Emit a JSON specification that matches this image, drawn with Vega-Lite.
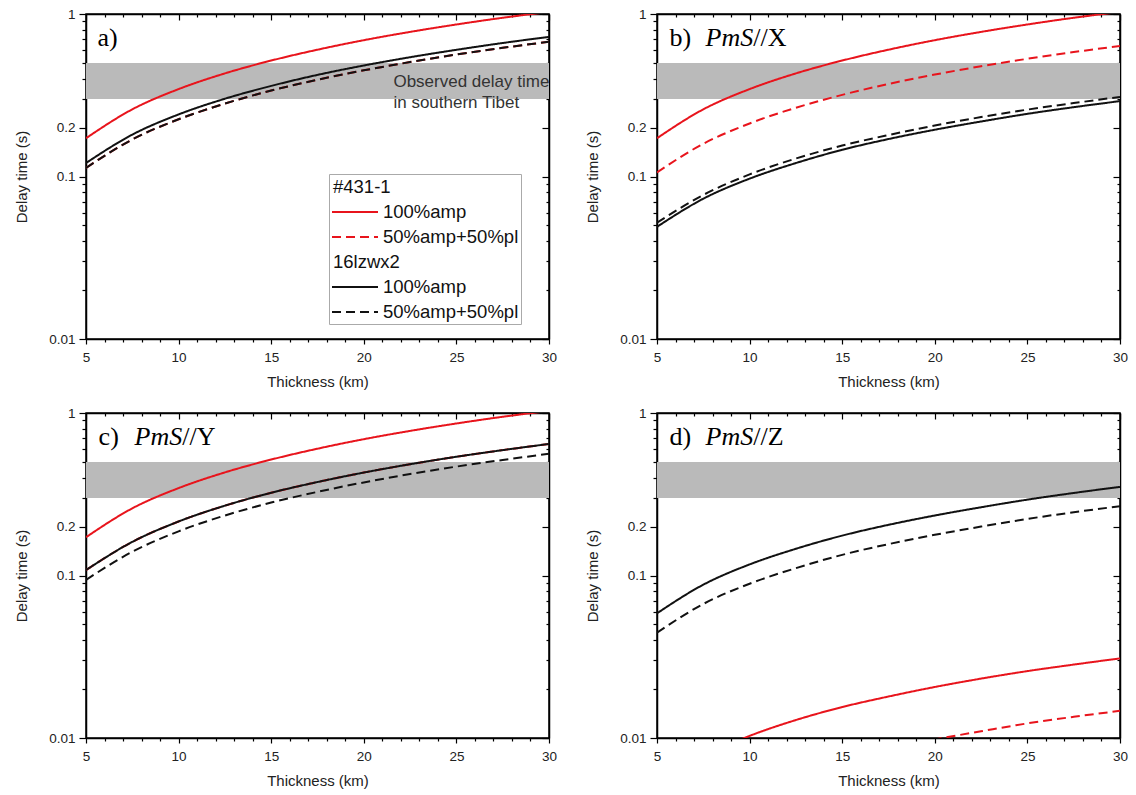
{
  "$schema": "https://vega.github.io/schema/vega-lite/v6.json",
  "background": "white",
  "padding": {"left": 13, "top": 6, "right": 0, "bottom": 0},
  "datasets": {
    "band": [{"lo": 0.3, "hi": 0.5}],
    "curves": [
      {"panel": "a", "t": 5, "r100": 0.172, "r50": 0.113, "k100": 0.121, "k50": 0.113},
      {"panel": "a", "t": 7.5, "r100": 0.259, "r50": 0.169, "k100": 0.181, "k50": 0.169},
      {"panel": "a", "t": 10, "r100": 0.345, "r50": 0.225, "k100": 0.241, "k50": 0.225},
      {"panel": "a", "t": 12.5, "r100": 0.431, "r50": 0.281, "k100": 0.301, "k50": 0.281},
      {"panel": "a", "t": 15, "r100": 0.517, "r50": 0.338, "k100": 0.361, "k50": 0.338},
      {"panel": "a", "t": 17.5, "r100": 0.603, "r50": 0.394, "k100": 0.422, "k50": 0.394},
      {"panel": "a", "t": 20, "r100": 0.69, "r50": 0.45, "k100": 0.482, "k50": 0.45},
      {"panel": "a", "t": 22.5, "r100": 0.776, "r50": 0.506, "k100": 0.542, "k50": 0.506},
      {"panel": "a", "t": 25, "r100": 0.862, "r50": 0.563, "k100": 0.602, "k50": 0.563},
      {"panel": "a", "t": 27.5, "r100": 0.948, "r50": 0.619, "k100": 0.663, "k50": 0.619},
      {"panel": "a", "t": 30, "r100": 1.03, "r50": 0.675, "k100": 0.723, "k50": 0.675},
      {"panel": "b", "t": 5, "r100": 0.172, "r50": 0.106, "k100": 0.049, "k50": 0.052},
      {"panel": "b", "t": 7.5, "r100": 0.259, "r50": 0.159, "k100": 0.073, "k50": 0.077},
      {"panel": "b", "t": 10, "r100": 0.345, "r50": 0.212, "k100": 0.097, "k50": 0.103},
      {"panel": "b", "t": 12.5, "r100": 0.431, "r50": 0.265, "k100": 0.121, "k50": 0.129},
      {"panel": "b", "t": 15, "r100": 0.517, "r50": 0.318, "k100": 0.146, "k50": 0.155},
      {"panel": "b", "t": 17.5, "r100": 0.603, "r50": 0.371, "k100": 0.17, "k50": 0.18},
      {"panel": "b", "t": 20, "r100": 0.69, "r50": 0.424, "k100": 0.194, "k50": 0.206},
      {"panel": "b", "t": 22.5, "r100": 0.776, "r50": 0.477, "k100": 0.218, "k50": 0.232},
      {"panel": "b", "t": 25, "r100": 0.862, "r50": 0.53, "k100": 0.243, "k50": 0.258},
      {"panel": "b", "t": 27.5, "r100": 0.948, "r50": 0.583, "k100": 0.267, "k50": 0.283},
      {"panel": "b", "t": 30, "r100": 1.03, "r50": 0.636, "k100": 0.291, "k50": 0.309},
      {"panel": "c", "t": 5, "r100": 0.172, "r50": 0.108, "k100": 0.108, "k50": 0.094},
      {"panel": "c", "t": 7.5, "r100": 0.259, "r50": 0.161, "k100": 0.161, "k50": 0.14},
      {"panel": "c", "t": 10, "r100": 0.345, "r50": 0.215, "k100": 0.215, "k50": 0.187},
      {"panel": "c", "t": 12.5, "r100": 0.431, "r50": 0.269, "k100": 0.269, "k50": 0.234},
      {"panel": "c", "t": 15, "r100": 0.517, "r50": 0.323, "k100": 0.323, "k50": 0.281},
      {"panel": "c", "t": 17.5, "r100": 0.603, "r50": 0.376, "k100": 0.376, "k50": 0.327},
      {"panel": "c", "t": 20, "r100": 0.69, "r50": 0.43, "k100": 0.43, "k50": 0.374},
      {"panel": "c", "t": 22.5, "r100": 0.776, "r50": 0.484, "k100": 0.484, "k50": 0.421},
      {"panel": "c", "t": 25, "r100": 0.862, "r50": 0.538, "k100": 0.538, "k50": 0.468},
      {"panel": "c", "t": 27.5, "r100": 0.948, "r50": 0.591, "k100": 0.591, "k50": 0.514},
      {"panel": "c", "t": 30, "r100": 1.03, "r50": 0.645, "k100": 0.645, "k50": 0.561},
      {"panel": "d", "t": 5, "r100": 0.0052, "r50": 0.0025, "k100": 0.0585, "k50": 0.0445},
      {"panel": "d", "t": 7.5, "r100": 0.0077, "r50": 0.0037, "k100": 0.0878, "k50": 0.0668},
      {"panel": "d", "t": 10, "r100": 0.0103, "r50": 0.0049, "k100": 0.117, "k50": 0.089},
      {"panel": "d", "t": 12.5, "r100": 0.0129, "r50": 0.0061, "k100": 0.146, "k50": 0.111},
      {"panel": "d", "t": 15, "r100": 0.0155, "r50": 0.0074, "k100": 0.176, "k50": 0.134},
      {"panel": "d", "t": 17.5, "r100": 0.018, "r50": 0.0086, "k100": 0.205, "k50": 0.156},
      {"panel": "d", "t": 20, "r100": 0.0206, "r50": 0.0098, "k100": 0.234, "k50": 0.178},
      {"panel": "d", "t": 22.5, "r100": 0.0232, "r50": 0.011, "k100": 0.263, "k50": 0.2},
      {"panel": "d", "t": 25, "r100": 0.0258, "r50": 0.0123, "k100": 0.293, "k50": 0.223},
      {"panel": "d", "t": 27.5, "r100": 0.0283, "r50": 0.0135, "k100": 0.322, "k50": 0.245},
      {"panel": "d", "t": 30, "r100": 0.0309, "r50": 0.0147, "k100": 0.351, "k50": 0.267}
    ]
  },
  "config": {
    "view": {"stroke": "black", "strokeWidth": 1.5},
    "axis": {"grid": false, "domainColor": "black", "domainWidth": 1.5, "tickColor": "black", "tickWidth": 1.2, "labelFont": "Liberation Sans", "labelFontSize": 13.5, "labelColor": "#222", "titleFont": "Liberation Sans", "titleFontSize": 15, "titleFontWeight": "normal", "titleColor": "#222", "labelOverlap": false, "labelFlush": false}
  },
  "columns": 2,
  "spacing": {"row": 14, "column": 26},
  "resolve": {"scale": {"color": "independent", "strokeDash": "independent"}},
  "concat": [
    {
      "width": 463, "height": 325,
      "resolve": {"axis": {"x": "independent", "y": "independent"}},
      "layer": [
        {"data": {"name": "band"}, "mark": {"type": "rect", "color": "#bababa"},
         "encoding": {"x": {"datum": 5, "type": "quantitative", "scale": {"domain": [5, 30], "nice": false, "zero": false}, "axis": null}, "x2": {"datum": 30},
                      "y": {"field": "lo", "type": "quantitative", "scale": {"type": "log", "domain": [0.01, 1], "nice": false}, "axis": null}, "y2": {"field": "hi"}}},
        {"data": {"name": "curves"}, "transform": [{"filter": "datum.panel == 'a'"}, {"fold": ["r100", "r50", "k100", "k50"], "as": ["series", "d"]}],
         "mark": {"type": "line", "clip": true, "strokeWidth": 2, "interpolate": "monotone"},
         "encoding": {
           "x": {"field": "t", "type": "quantitative", "axis": {"orient": "bottom", "values": [5,6,7,8,9,10,11,12,13,14,15,16,17,18,19,20,21,22,23,24,25,26,27,28,29,30], "labelExpr": "datum.value % 5 == 0 ? datum.label : ''", "tickSize": {"condition": {"test": "datum.value % 5 == 0", "value": 5}, "value": 3}, "labelPadding": 6, "title": "Thickness (km)", "titlePadding": 11}},
           "y": {"field": "d", "type": "quantitative", "axis": {"orient": "left", "values": [0.01,0.02,0.03,0.04,0.05,0.06,0.07,0.08,0.09,0.1,0.2,0.3,0.4,0.5,0.6,0.7,0.8,0.9,1], "labelExpr": "datum.value == 0.01 ? '0.01' : datum.value == 0.1 ? '0.1' : datum.value == 0.2 ? '0.2' : datum.value == 1 ? '1' : ''", "tickSize": {"condition": {"test": "datum.value == 0.01 || datum.value == 0.1 || datum.value == 0.2 || datum.value == 1", "value": 7}, "value": 4}, "labelPadding": 4, "title": "Delay time (s)", "titlePadding": 19}},
           "color": {"field": "series", "type": "nominal", "scale": {"domain": ["h1", "r100", "r50", "h2", "k100", "k50"], "range": ["rgba(0,0,0,0)", "#e8141c", "#e8141c", "rgba(0,0,0,0)", "#111111", "#111111"]},
             "legend": {"orient": "none", "legendX": 243, "legendY": 160, "title": null, "symbolType": "stroke", "symbolSize": 2116, "symbolStrokeWidth": 2, "labelFont": "Liberation Sans", "labelFontSize": 18.5, "labelColor": "#111", "labelOffset": 4, "labelLimit": 300, "padding": 2, "rowPadding": 4, "strokeColor": "#aaaaaa", "fillColor": "white",
               "labelExpr": "datum.value == 'h1' ? '#431-1' : datum.value == 'h2' ? '16lzwx2' : (datum.value == 'r100' || datum.value == 'k100') ? '100%amp' : '50%amp+50%pl'",
               "encode": {"symbols": {"update": {"y": {"value": 11}}}, "labels": {"update": {"y": {"value": 11}, "dx": {"signal": "datum.value == 'h1' || datum.value == 'h2' ? -50 : 0"}}}}}},
           "strokeDash": {"field": "series", "type": "nominal", "scale": {"domain": ["h1", "r100", "r50", "h2", "k100", "k50"], "range": [[1, 0], [1, 0], [9, 5], [1, 0], [1, 0], [9, 5]]},
             "legend": {"orient": "none", "legendX": 243, "legendY": 160, "title": null, "symbolType": "stroke", "symbolSize": 2116, "symbolStrokeWidth": 2, "labelFont": "Liberation Sans", "labelFontSize": 18.5, "labelColor": "#111", "labelOffset": 4, "labelLimit": 300, "padding": 2, "rowPadding": 4, "strokeColor": "#aaaaaa", "fillColor": "white",
               "labelExpr": "datum.value == 'h1' ? '#431-1' : datum.value == 'h2' ? '16lzwx2' : (datum.value == 'r100' || datum.value == 'k100') ? '100%amp' : '50%amp+50%pl'",
               "encode": {"symbols": {"update": {"y": {"value": 11}}}, "labels": {"update": {"y": {"value": 11}, "dx": {"signal": "datum.value == 'h1' || datum.value == 'h2' ? -50 : 0"}}}}}}
         }},
        {"data": {"values": [{}]}, "mark": {"type": "text", "font": "Liberation Sans", "fontSize": 17, "color": "#333", "align": "left", "baseline": "middle", "lineHeight": 21},
         "encoding": {"x": {"datum": 21.6, "type": "quantitative", "axis": null}, "y": {"datum": 0.384, "type": "quantitative", "axis": null}, "text": {"value": ["Observed delay time", "in southern Tibet"]}}},
        {"data": {"values": [{}]}, "mark": {"type": "text", "font": "Liberation Serif", "fontSize": 26, "color": "black", "align": "left", "baseline": "alphabetic"},
         "encoding": {"x": {"datum": 5.62, "type": "quantitative", "axis": null}, "y": {"datum": 0.636, "type": "quantitative", "axis": null}, "text": {"value": "a)"}}},
        {"data": {"name": "curves"}, "transform": [{"filter": "datum.panel == 'a'"}], "mark": {"type": "line", "strokeOpacity": 0},
         "encoding": {
           "x": {"field": "t", "type": "quantitative", "axis": {"orient": "top", "values": [5,6,7,8,9,10,11,12,13,14,15,16,17,18,19,20,21,22,23,24,25,26,27,28,29,30], "labels": false, "title": null, "tickSize": {"condition": {"test": "datum.value % 5 == 0", "value": -6}, "value": -3}}},
           "y": {"field": "k100", "type": "quantitative", "axis": {"orient": "right", "values": [0.01,0.02,0.03,0.04,0.05,0.06,0.07,0.08,0.09,0.1,0.2,0.3,0.4,0.5,0.6,0.7,0.8,0.9,1], "labels": false, "title": null, "tickSize": {"condition": {"test": "datum.value == 0.01 || datum.value == 0.1 || datum.value == 0.2 || datum.value == 1", "value": -7}, "value": -3}}}
         }}
      ]
    },
    {
      "width": 463, "height": 325,
      "resolve": {"axis": {"x": "independent", "y": "independent"}},
      "layer": [
        {"data": {"name": "band"}, "mark": {"type": "rect", "color": "#bababa"},
         "encoding": {"x": {"datum": 5, "type": "quantitative", "scale": {"domain": [5, 30], "nice": false, "zero": false}, "axis": null}, "x2": {"datum": 30},
                      "y": {"field": "lo", "type": "quantitative", "scale": {"type": "log", "domain": [0.01, 1], "nice": false}, "axis": null}, "y2": {"field": "hi"}}},
        {"data": {"name": "curves"}, "transform": [{"filter": "datum.panel == 'b'"}, {"fold": ["r100", "r50", "k100", "k50"], "as": ["series", "d"]}],
         "mark": {"type": "line", "clip": true, "strokeWidth": 2, "interpolate": "monotone"},
         "encoding": {
           "x": {"field": "t", "type": "quantitative", "axis": {"orient": "bottom", "values": [5,6,7,8,9,10,11,12,13,14,15,16,17,18,19,20,21,22,23,24,25,26,27,28,29,30], "labelExpr": "datum.value % 5 == 0 ? datum.label : ''", "tickSize": {"condition": {"test": "datum.value % 5 == 0", "value": 5}, "value": 3}, "labelPadding": 6, "title": "Thickness (km)", "titlePadding": 11}},
           "y": {"field": "d", "type": "quantitative", "axis": {"orient": "left", "values": [0.01,0.02,0.03,0.04,0.05,0.06,0.07,0.08,0.09,0.1,0.2,0.3,0.4,0.5,0.6,0.7,0.8,0.9,1], "labelExpr": "datum.value == 0.01 ? '0.01' : datum.value == 0.1 ? '0.1' : datum.value == 0.2 ? '0.2' : datum.value == 1 ? '1' : ''", "tickSize": {"condition": {"test": "datum.value == 0.01 || datum.value == 0.1 || datum.value == 0.2 || datum.value == 1", "value": 7}, "value": 4}, "labelPadding": 4, "title": "Delay time (s)", "titlePadding": 19}},
           "color": {"field": "series", "type": "nominal", "scale": {"domain": ["h1", "r100", "r50", "h2", "k100", "k50"], "range": ["rgba(0,0,0,0)", "#e8141c", "#e8141c", "rgba(0,0,0,0)", "#111111", "#111111"]}, "legend": null},
           "strokeDash": {"field": "series", "type": "nominal", "scale": {"domain": ["h1", "r100", "r50", "h2", "k100", "k50"], "range": [[1, 0], [1, 0], [9, 5], [1, 0], [1, 0], [9, 5]]}, "legend": null}
         }},
        {"data": {"values": [{}]}, "mark": {"type": "text", "font": "Liberation Serif", "fontSize": 26, "color": "black", "align": "left", "baseline": "alphabetic"},
         "encoding": {"x": {"datum": 5.68, "type": "quantitative", "axis": null}, "y": {"datum": 0.636, "type": "quantitative", "axis": null}, "text": {"value": "b)"}}},
        {"data": {"values": [{}]}, "mark": {"type": "text", "font": "Liberation Serif", "fontSize": 26, "fontStyle": "italic", "color": "black", "align": "left", "baseline": "alphabetic"},
         "encoding": {"x": {"datum": 7.62, "type": "quantitative", "axis": null}, "y": {"datum": 0.636, "type": "quantitative", "axis": null}, "text": {"value": "PmS"}}},
        {"data": {"values": [{}]}, "mark": {"type": "text", "font": "Liberation Serif", "fontSize": 26, "color": "black", "align": "left", "baseline": "alphabetic"},
         "encoding": {"x": {"datum": 10.2, "type": "quantitative", "axis": null}, "y": {"datum": 0.636, "type": "quantitative", "axis": null}, "text": {"value": "//X"}}},
        {"data": {"name": "curves"}, "transform": [{"filter": "datum.panel == 'b'"}], "mark": {"type": "line", "strokeOpacity": 0},
         "encoding": {
           "x": {"field": "t", "type": "quantitative", "axis": {"orient": "top", "values": [5,6,7,8,9,10,11,12,13,14,15,16,17,18,19,20,21,22,23,24,25,26,27,28,29,30], "labels": false, "title": null, "tickSize": {"condition": {"test": "datum.value % 5 == 0", "value": -6}, "value": -3}}},
           "y": {"field": "k100", "type": "quantitative", "axis": {"orient": "right", "values": [0.01,0.02,0.03,0.04,0.05,0.06,0.07,0.08,0.09,0.1,0.2,0.3,0.4,0.5,0.6,0.7,0.8,0.9,1], "labels": false, "title": null, "tickSize": {"condition": {"test": "datum.value == 0.01 || datum.value == 0.1 || datum.value == 0.2 || datum.value == 1", "value": -7}, "value": -3}}}
         }}
      ]
    },
    {
      "width": 463, "height": 325,
      "resolve": {"axis": {"x": "independent", "y": "independent"}},
      "layer": [
        {"data": {"name": "band"}, "mark": {"type": "rect", "color": "#bababa"},
         "encoding": {"x": {"datum": 5, "type": "quantitative", "scale": {"domain": [5, 30], "nice": false, "zero": false}, "axis": null}, "x2": {"datum": 30},
                      "y": {"field": "lo", "type": "quantitative", "scale": {"type": "log", "domain": [0.01, 1], "nice": false}, "axis": null}, "y2": {"field": "hi"}}},
        {"data": {"name": "curves"}, "transform": [{"filter": "datum.panel == 'c'"}, {"fold": ["r50", "r100", "k100", "k50"], "as": ["series", "d"]}],
         "mark": {"type": "line", "clip": true, "strokeWidth": 2, "interpolate": "monotone"},
         "encoding": {
           "x": {"field": "t", "type": "quantitative", "axis": {"orient": "bottom", "values": [5,6,7,8,9,10,11,12,13,14,15,16,17,18,19,20,21,22,23,24,25,26,27,28,29,30], "labelExpr": "datum.value % 5 == 0 ? datum.label : ''", "tickSize": {"condition": {"test": "datum.value % 5 == 0", "value": 5}, "value": 3}, "labelPadding": 6, "title": "Thickness (km)", "titlePadding": 11}},
           "y": {"field": "d", "type": "quantitative", "axis": {"orient": "left", "values": [0.01,0.02,0.03,0.04,0.05,0.06,0.07,0.08,0.09,0.1,0.2,0.3,0.4,0.5,0.6,0.7,0.8,0.9,1], "labelExpr": "datum.value == 0.01 ? '0.01' : datum.value == 0.1 ? '0.1' : datum.value == 0.2 ? '0.2' : datum.value == 1 ? '1' : ''", "tickSize": {"condition": {"test": "datum.value == 0.01 || datum.value == 0.1 || datum.value == 0.2 || datum.value == 1", "value": 7}, "value": 4}, "labelPadding": 4, "title": "Delay time (s)", "titlePadding": 19}},
           "color": {"field": "series", "type": "nominal", "scale": {"domain": ["h1", "r100", "r50", "h2", "k100", "k50"], "range": ["rgba(0,0,0,0)", "#e8141c", "#e8141c", "rgba(0,0,0,0)", "#111111", "#111111"]}, "legend": null},
           "strokeDash": {"field": "series", "type": "nominal", "scale": {"domain": ["h1", "r100", "r50", "h2", "k100", "k50"], "range": [[1, 0], [1, 0], [9, 5], [1, 0], [1, 0], [9, 5]]}, "legend": null}
         }},
        {"data": {"values": [{}]}, "mark": {"type": "text", "font": "Liberation Serif", "fontSize": 26, "color": "black", "align": "left", "baseline": "alphabetic"},
         "encoding": {"x": {"datum": 5.68, "type": "quantitative", "axis": null}, "y": {"datum": 0.636, "type": "quantitative", "axis": null}, "text": {"value": "c)"}}},
        {"data": {"values": [{}]}, "mark": {"type": "text", "font": "Liberation Serif", "fontSize": 26, "fontStyle": "italic", "color": "black", "align": "left", "baseline": "alphabetic"},
         "encoding": {"x": {"datum": 7.62, "type": "quantitative", "axis": null}, "y": {"datum": 0.636, "type": "quantitative", "axis": null}, "text": {"value": "PmS"}}},
        {"data": {"values": [{}]}, "mark": {"type": "text", "font": "Liberation Serif", "fontSize": 26, "color": "black", "align": "left", "baseline": "alphabetic"},
         "encoding": {"x": {"datum": 10.2, "type": "quantitative", "axis": null}, "y": {"datum": 0.636, "type": "quantitative", "axis": null}, "text": {"value": "//Y"}}},
        {"data": {"name": "curves"}, "transform": [{"filter": "datum.panel == 'c'"}], "mark": {"type": "line", "strokeOpacity": 0},
         "encoding": {
           "x": {"field": "t", "type": "quantitative", "axis": {"orient": "top", "values": [5,6,7,8,9,10,11,12,13,14,15,16,17,18,19,20,21,22,23,24,25,26,27,28,29,30], "labels": false, "title": null, "tickSize": {"condition": {"test": "datum.value % 5 == 0", "value": -6}, "value": -3}}},
           "y": {"field": "k100", "type": "quantitative", "axis": {"orient": "right", "values": [0.01,0.02,0.03,0.04,0.05,0.06,0.07,0.08,0.09,0.1,0.2,0.3,0.4,0.5,0.6,0.7,0.8,0.9,1], "labels": false, "title": null, "tickSize": {"condition": {"test": "datum.value == 0.01 || datum.value == 0.1 || datum.value == 0.2 || datum.value == 1", "value": -7}, "value": -3}}}
         }}
      ]
    },
    {
      "width": 463, "height": 325,
      "resolve": {"axis": {"x": "independent", "y": "independent"}},
      "layer": [
        {"data": {"name": "band"}, "mark": {"type": "rect", "color": "#bababa"},
         "encoding": {"x": {"datum": 5, "type": "quantitative", "scale": {"domain": [5, 30], "nice": false, "zero": false}, "axis": null}, "x2": {"datum": 30},
                      "y": {"field": "lo", "type": "quantitative", "scale": {"type": "log", "domain": [0.01, 1], "nice": false}, "axis": null}, "y2": {"field": "hi"}}},
        {"data": {"name": "curves"}, "transform": [{"filter": "datum.panel == 'd'"}, {"fold": ["r100", "r50", "k100", "k50"], "as": ["series", "d"]}],
         "mark": {"type": "line", "clip": true, "strokeWidth": 2, "interpolate": "monotone"},
         "encoding": {
           "x": {"field": "t", "type": "quantitative", "axis": {"orient": "bottom", "values": [5,6,7,8,9,10,11,12,13,14,15,16,17,18,19,20,21,22,23,24,25,26,27,28,29,30], "labelExpr": "datum.value % 5 == 0 ? datum.label : ''", "tickSize": {"condition": {"test": "datum.value % 5 == 0", "value": 5}, "value": 3}, "labelPadding": 6, "title": "Thickness (km)", "titlePadding": 11}},
           "y": {"field": "d", "type": "quantitative", "axis": {"orient": "left", "values": [0.01,0.02,0.03,0.04,0.05,0.06,0.07,0.08,0.09,0.1,0.2,0.3,0.4,0.5,0.6,0.7,0.8,0.9,1], "labelExpr": "datum.value == 0.01 ? '0.01' : datum.value == 0.1 ? '0.1' : datum.value == 0.2 ? '0.2' : datum.value == 1 ? '1' : ''", "tickSize": {"condition": {"test": "datum.value == 0.01 || datum.value == 0.1 || datum.value == 0.2 || datum.value == 1", "value": 7}, "value": 4}, "labelPadding": 4, "title": "Delay time (s)", "titlePadding": 19}},
           "color": {"field": "series", "type": "nominal", "scale": {"domain": ["h1", "r100", "r50", "h2", "k100", "k50"], "range": ["rgba(0,0,0,0)", "#e8141c", "#e8141c", "rgba(0,0,0,0)", "#111111", "#111111"]}, "legend": null},
           "strokeDash": {"field": "series", "type": "nominal", "scale": {"domain": ["h1", "r100", "r50", "h2", "k100", "k50"], "range": [[1, 0], [1, 0], [9, 5], [1, 0], [1, 0], [9, 5]]}, "legend": null}
         }},
        {"data": {"values": [{}]}, "mark": {"type": "text", "font": "Liberation Serif", "fontSize": 26, "color": "black", "align": "left", "baseline": "alphabetic"},
         "encoding": {"x": {"datum": 5.68, "type": "quantitative", "axis": null}, "y": {"datum": 0.636, "type": "quantitative", "axis": null}, "text": {"value": "d)"}}},
        {"data": {"values": [{}]}, "mark": {"type": "text", "font": "Liberation Serif", "fontSize": 26, "fontStyle": "italic", "color": "black", "align": "left", "baseline": "alphabetic"},
         "encoding": {"x": {"datum": 7.62, "type": "quantitative", "axis": null}, "y": {"datum": 0.636, "type": "quantitative", "axis": null}, "text": {"value": "PmS"}}},
        {"data": {"values": [{}]}, "mark": {"type": "text", "font": "Liberation Serif", "fontSize": 26, "color": "black", "align": "left", "baseline": "alphabetic"},
         "encoding": {"x": {"datum": 10.2, "type": "quantitative", "axis": null}, "y": {"datum": 0.636, "type": "quantitative", "axis": null}, "text": {"value": "//Z"}}},
        {"data": {"name": "curves"}, "transform": [{"filter": "datum.panel == 'd'"}], "mark": {"type": "line", "strokeOpacity": 0},
         "encoding": {
           "x": {"field": "t", "type": "quantitative", "axis": {"orient": "top", "values": [5,6,7,8,9,10,11,12,13,14,15,16,17,18,19,20,21,22,23,24,25,26,27,28,29,30], "labels": false, "title": null, "tickSize": {"condition": {"test": "datum.value % 5 == 0", "value": -6}, "value": -3}}},
           "y": {"field": "k100", "type": "quantitative", "axis": {"orient": "right", "values": [0.01,0.02,0.03,0.04,0.05,0.06,0.07,0.08,0.09,0.1,0.2,0.3,0.4,0.5,0.6,0.7,0.8,0.9,1], "labels": false, "title": null, "tickSize": {"condition": {"test": "datum.value == 0.01 || datum.value == 0.1 || datum.value == 0.2 || datum.value == 1", "value": -7}, "value": -3}}}
         }}
      ]
    }
  ]
}
